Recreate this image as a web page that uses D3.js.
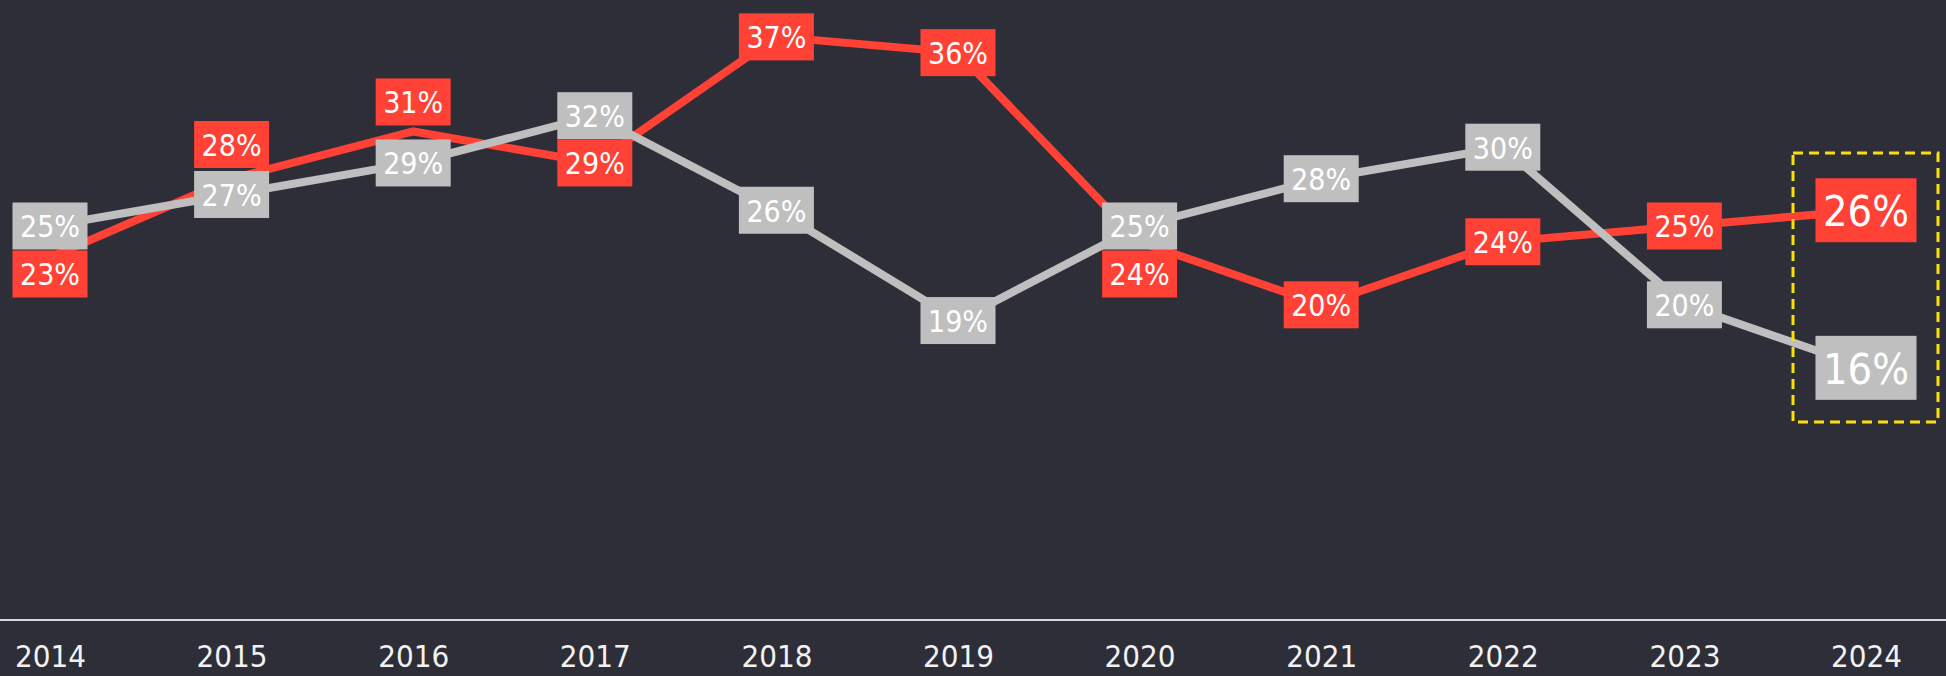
<!DOCTYPE html>
<html>
<head>
<meta charset="utf-8">
<script src="https://cdn.jsdelivr.net/npm/d3@7"></script>
<style>
  html, body { margin: 0; padding: 0; background: #2e2e38; }
  svg { display: block; }
  text { font-family: "DejaVu Sans Condensed", "DejaVu Sans", sans-serif; font-stretch: condensed; }
</style>
</head>
<body>
<svg id="chart" width="1946" height="676"></svg>
<script>
const years = [2014, 2015, 2016, 2017, 2018, 2019, 2020, 2021, 2022, 2023, 2024];
const redValues = [23, 28, 31, 29, 37, 36, 24, 20, 24, 25, 26];
const greyValues = [25, 27, 29, 32, 26, 19, 25, 28, 30, 20, 16];
const tickLabels = ["2014", "2015", "2016", "2017", "2018", "2019", "2020", "2021", "2022", "2023", "2024"];

const W = 1946, H = 676;
const RED = "#ff4136", GREY = "#bfbfbf", BG = "#2e2e38";
const svg = d3.select("#chart");
svg.append("rect").attr("width", W).attr("height", H).attr("fill", BG);

const x = d3.scalePoint().domain(years).range([50, 1866]);
const y = d3.scaleLinear().domain([0, 39.34]).range([620, 0]);

// axis
const xAxis = d3.axisBottom(x).tickSize(0).tickPadding(0).tickFormat((d, i) => tickLabels[i]);
const axisG = svg.append("g").attr("transform", "translate(0,620)").call(xAxis);
axisG.select(".domain").remove();
axisG.append("line").attr("x1", 0).attr("x2", W).attr("y1", 0).attr("y2", 0)
  .attr("stroke", "#d9d9d9").attr("stroke-width", 2);
axisG.selectAll(".tick text").attr("fill", "#f2f2f2").attr("font-size", 31)
  .attr("dy", null).attr("y", 47);

// lines
const line = d3.line().x((d, i) => x(years[i])).y(d => y(d));
svg.append("path").datum(redValues).attr("d", line).attr("fill", "none")
  .attr("stroke", RED).attr("stroke-width", 8).attr("stroke-linejoin", "miter");
svg.append("path").datum(greyValues).attr("d", line).attr("fill", "none")
  .attr("stroke", GREY).attr("stroke-width", 8).attr("stroke-linejoin", "miter");

// highlight box around last year
const last = years.length - 1;
svg.append("rect")
  .attr("x", x(years[last]) - 73).attr("y", 153)
  .attr("width", 145).attr("height", 269)
  .attr("fill", "none").attr("stroke", "#ffe000").attr("stroke-width", 3)
  .attr("stroke-dasharray", "10,6");

// labels
years.forEach((yr, i) => {
  const big = i === last;
  const bw = big ? 101 : 75, bh = big ? 64 : 47, fs = big ? 43 : 30;
  const gy = y(greyValues[i]);
  const rp = y(redValues[i]);
  let ry = rp;
  // collision: move red label clear of the grey label
  if (Math.abs(ry - gy) < bh) {
    if (ry >= gy) {
      ry = gy + bh + 1;
    } else {
      const bottom = Math.min(gy - bh / 2 - 3, rp - 6);
      ry = bottom - bh / 2;
    }
  }
  [[gy, GREY, greyValues[i]], [ry, RED, redValues[i]]].forEach(([cy, col, v]) => {
    const g = svg.append("g").attr("transform", `translate(${x(yr)},${cy})`);
    g.append("rect").attr("x", -bw / 2).attr("y", -bh / 2).attr("width", bw).attr("height", bh).attr("fill", col);
    g.append("text").attr("text-anchor", "middle").attr("dominant-baseline", "central")
      .attr("y", 1).attr("fill", "#ffffff").attr("font-size", fs).text(v + "%");
  });
});
</script>
</body>
</html>
